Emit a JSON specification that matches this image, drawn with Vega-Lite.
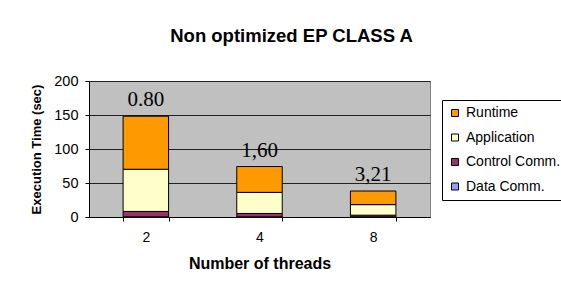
{
  "$schema": "https://vega.github.io/schema/vega-lite/v6.json",
  "width": 341,
  "height": 136,
  "autosize": "none",
  "padding": {"left": 89, "top": 81, "right": 131, "bottom": 72},
  "background": "white",
  "title": {
    "text": "Non optimized EP CLASS A",
    "font": "Liberation Sans",
    "fontSize": 18.5,
    "fontWeight": "bold",
    "color": "black",
    "anchor": "middle",
    "frame": "group",
    "dx": 32,
    "baseline": "alphabetic",
    "offset": 13
  },
  "datasets": {
    "bars": [
      {"threads": "2", "component": "Data Comm.", "ord": 0, "time": 0.2},
      {"threads": "2", "component": "Control Comm.", "ord": 1, "time": 8},
      {"threads": "2", "component": "Application", "ord": 2, "time": 62},
      {"threads": "2", "component": "Runtime", "ord": 3, "time": 78},
      {"threads": "4", "component": "Data Comm.", "ord": 0, "time": 0.2},
      {"threads": "4", "component": "Control Comm.", "ord": 1, "time": 5},
      {"threads": "4", "component": "Application", "ord": 2, "time": 31},
      {"threads": "4", "component": "Runtime", "ord": 3, "time": 38},
      {"threads": "8", "component": "Data Comm.", "ord": 0, "time": 0.2},
      {"threads": "8", "component": "Control Comm.", "ord": 1, "time": 2.5},
      {"threads": "8", "component": "Application", "ord": 2, "time": 15.5},
      {"threads": "8", "component": "Runtime", "ord": 3, "time": 20}
    ],
    "labels": [
      {"threads": "2", "total": 148, "label": "0.80"},
      {"threads": "4", "total": 74, "label": "1,60"},
      {"threads": "8", "total": 38, "label": "3,21"}
    ]
  },
  "encoding": {
    "x": {
      "field": "threads",
      "type": "ordinal",
      "sort": ["2", "4", "8"],
      "scale": {"paddingInner": 0.6, "paddingOuter": 0.3},
      "axis": {
        "title": "Number of threads",
        "titleFont": "Liberation Sans",
        "titleFontSize": 16,
        "titleFontWeight": "bold",
        "titleColor": "black",
        "titlePadding": 11,
        "labelFont": "Liberation Sans",
        "labelFontSize": 14,
        "labelColor": "black",
        "labelAngle": 0,
        "labelPadding": 9,
        "domainColor": "black",
        "tickColor": "black",
        "tickBand": "extent",
        "tickSize": 4,
        "grid": false
      }
    }
  },
  "layer": [
    {
      "data": {"name": "bars"},
      "mark": {"type": "bar", "stroke": "black", "strokeWidth": 1},
      "encoding": {
        "y": {
          "field": "time",
          "type": "quantitative",
          "stack": "zero",
          "scale": {"domain": [0, 200]},
          "axis": {
            "title": "Execution Time (sec)",
            "titleFont": "Liberation Sans",
            "titleFontSize": 13,
            "titleFontWeight": "bold",
            "titleColor": "black",
            "titlePadding": 10,
            "values": [0, 50, 100, 150, 200],
            "labelOverlap": false,
            "labelFont": "Liberation Sans",
            "labelFontSize": 14.5,
            "labelColor": "black",
            "labelPadding": 7,
            "domainColor": "black",
            "tickColor": "black",
            "tickSize": 4,
            "grid": true,
            "gridColor": "#222222",
            "gridWidth": 1
          }
        },
        "color": {
          "field": "component",
          "type": "nominal",
          "scale": {
            "domain": ["Runtime", "Application", "Control Comm.", "Data Comm."],
            "range": ["#FF9900", "#FFFFCC", "#993366", "#9999FF"]
          },
          "legend": {
            "title": null,
            "orient": "none",
            "legendX": 353,
            "legendY": 19,
            "symbolType": "square",
            "symbolSize": 49,
            "symbolStrokeColor": "black",
            "symbolStrokeWidth": 1,
            "labelFont": "Liberation Sans",
            "labelFontSize": 14,
            "labelColor": "black",
            "labelOffset": 4,
            "rowPadding": 10.5,
            "padding": 6,
            "strokeColor": "black",
            "fillColor": "white",
            "labelLimit": 200
          }
        },
        "order": {"field": "ord", "type": "quantitative"}
      }
    },
    {
      "data": {"name": "labels"},
      "mark": {
        "type": "text",
        "font": "Liberation Serif",
        "fontSize": 21,
        "color": "black",
        "baseline": "alphabetic",
        "dy": -10
      },
      "encoding": {
        "y": {
          "field": "total",
          "type": "quantitative",
          "scale": {"domain": [0, 200]},
          "axis": {
            "title": "Execution Time (sec)",
            "titleFont": "Liberation Sans",
            "titleFontSize": 13,
            "titleFontWeight": "bold",
            "titleColor": "black",
            "titlePadding": 10,
            "values": [0, 50, 100, 150, 200],
            "labelOverlap": false,
            "labelFont": "Liberation Sans",
            "labelFontSize": 14.5,
            "labelColor": "black",
            "labelPadding": 7,
            "domainColor": "black",
            "tickColor": "black",
            "tickSize": 4,
            "grid": true,
            "gridColor": "#222222",
            "gridWidth": 1
          }
        },
        "text": {"field": "label"}
      }
    }
  ],
  "config": {
    "view": {"fill": "#C0C0C0", "stroke": "#808080"}
  }
}
